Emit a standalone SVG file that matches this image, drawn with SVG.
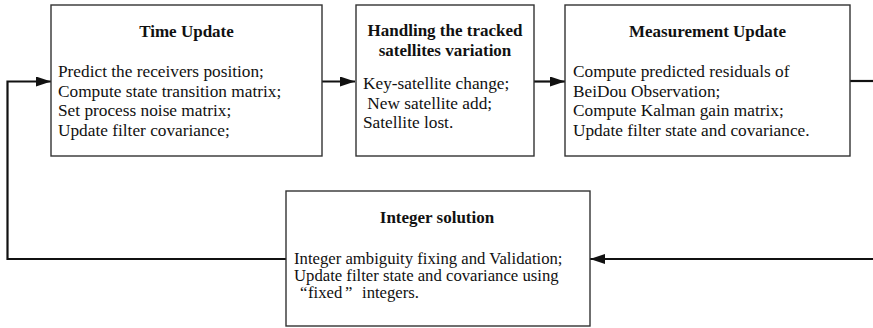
<svg xmlns="http://www.w3.org/2000/svg" width="873" height="328" viewBox="0 0 873 328">
<style>
.box{fill:#fff;stroke:#333;stroke-width:1.4}
.t{font-family:"Liberation Serif","Times New Roman",serif;font-size:17.3px;fill:#111}
.h{font-weight:bold;text-anchor:middle;font-size:17px}
.s{font-size:16.7px}
.c{fill:none;stroke:#111;stroke-width:2.2}
</style>
<defs>
<marker id="ah" markerWidth="15" markerHeight="10" refX="15" refY="5" orient="auto" markerUnits="userSpaceOnUse">
<path d="M0,0 L15,5 L0,10 Z" fill="#111"/>
</marker>
</defs>
<rect width="873" height="328" fill="#fff"/>
<g id="connectors">
<path class="c" d="M322,81.5 L355,81.5" marker-end="url(#ah)"/>
<path class="c" d="M534,81.5 L565,81.5" marker-end="url(#ah)"/>
<path class="c" d="M850,81 L873,81"/>
<path class="c" d="M873,259 L590,259" marker-end="url(#ah)"/>
<path class="c" d="M286,259 L7.5,259 L7.5,81.5 L51,81.5" marker-end="url(#ah)"/>
</g>
<g id="time-update">
<rect class="box" x="51" y="5" width="271" height="151"/>
<text class="t h" x="186.5" y="36.5">Time Update</text>
<text class="t"><tspan x="58" y="77">Predict the receivers position;</tspan><tspan x="58" y="96.5">Compute state transition matrix;</tspan><tspan x="58" y="116">Set process noise matrix;</tspan><tspan x="58" y="135.5">Update filter covariance;</tspan></text>
</g>
<g id="handling">
<rect class="box" x="356" y="5" width="178" height="151"/>
<text class="t h"><tspan x="445" y="35.5">Handling the tracked</tspan><tspan x="445" y="56">satellites variation</tspan></text>
<text class="t" xml:space="preserve"><tspan x="363" y="89">Key-satellite change;</tspan><tspan x="363" y="108.5"> New satellite add;</tspan><tspan x="363" y="128">Satellite lost.</tspan></text>
</g>
<g id="measurement-update">
<rect class="box" x="565" y="5" width="285" height="151"/>
<text class="t h" x="707.5" y="36.5">Measurement Update</text>
<text class="t"><tspan x="573" y="77">Compute predicted residuals of</tspan><tspan x="573" y="96.5">BeiDou Observation;</tspan><tspan x="573" y="116">Compute Kalman gain matrix;</tspan><tspan x="573" y="135.5">Update filter state and covariance.</tspan></text>
</g>
<g id="integer-solution">
<rect class="box" x="286" y="191" width="304" height="135"/>
<text class="t h" x="437" y="223">Integer solution</text>
<text class="t s"><tspan x="294" y="263.5">Integer ambiguity fixing and Validation;</tspan><tspan x="294" y="280.7">Update filter state and covariance using</tspan><tspan x="300" y="297.5">“</tspan><tspan x="308" y="297.5">fixed</tspan><tspan x="345" y="297.5">”</tspan><tspan x="362" y="297.5">integers.</tspan></text>
</g>
</svg>
